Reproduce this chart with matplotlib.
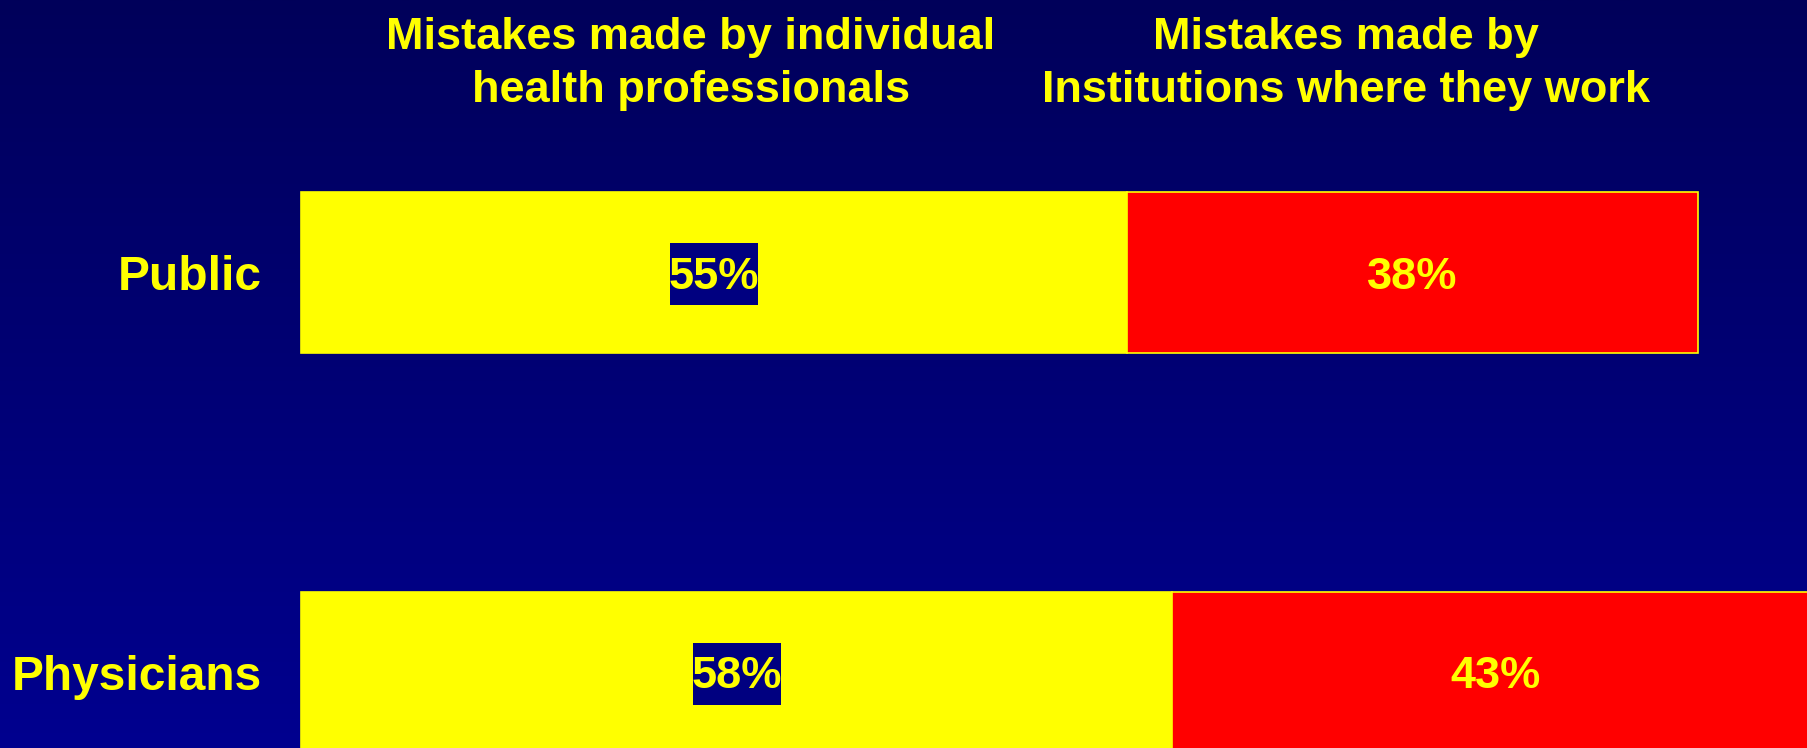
import numpy as np
import matplotlib
matplotlib.use("Agg")
import matplotlib.pyplot as plt
from matplotlib.colors import LinearSegmentedColormap
from matplotlib.patches import Rectangle

groups = ["Public", "Physicians"]
individual = [55, 58]
institution = [38, 43]
headers = ["Mistakes made by individual\nhealth professionals",
           "Mistakes made by\nInstitutions where they work"]

plt.rcParams['font.family'] = ['Liberation Sans', 'DejaVu Sans']

W, H = 1807, 748
fig = plt.figure(figsize=(W / 100, H / 100), dpi=100)

# navy gradient background
bg = fig.add_axes([0, 0, 1, 1])
grad = np.linspace(0, 1, 256).reshape(-1, 1)
cmap = LinearSegmentedColormap.from_list("bg", ["#00005a", "#00008f"])
bg.imshow(grad, aspect="auto", cmap=cmap, extent=[0, 1, 0, 1], origin="upper")
bg.axis("off")

ax = fig.add_axes([0, 0, 1, 1])
ax.patch.set_alpha(0)
px_per_pct = 15.02
px_per_row = 400
x0 = 301
ax.set_xlim(-x0 / px_per_pct, (W - x0) / px_per_pct)
ax.set_ylim((H - 272.5) / px_per_row, -272.5 / px_per_row)
ax.axis("off")

y = np.arange(len(groups))
bh = 0.4025
ax.barh(y, individual, height=bh, color="#ffff00", edgecolor="#ffff00", linewidth=1.2)
ax.barh(y, institution, left=individual, height=bh, color="#ff0000",
        edgecolor="#ffff00", linewidth=1.2)

# navy box behind the yellow-segment labels (88 x 62 px)
box_w = 88 / px_per_pct
box_h = 62 / px_per_row

for i, g in enumerate(groups):
    ax.text(-2.6, y[i], g, ha="right", va="center_baseline", color="#ffff00",
            fontsize=34.5, fontweight="bold")
    cx = individual[i] / 2
    ax.add_patch(Rectangle((cx - box_w / 2, y[i] - box_h / 2 + 0.004), box_w, box_h,
                           fc="#000080", ec="none", zorder=3))
    ax.text(cx, y[i], f"{individual[i]}%", ha="center", va="center_baseline",
            color="#ffff00", fontsize=32.5, fontweight="bold", zorder=4)
    ax.text(individual[i] + institution[i] / 2, y[i], f"{institution[i]}%",
            ha="center", va="center_baseline", color="#ffff00", fontsize=32.5,
            fontweight="bold", zorder=4)

for hx, txt in zip([691, 1346], headers):
    fig.text(hx / W, 1 - 64 / H, txt, ha="center", va="center", color="#ffff00",
             fontsize=32.5, fontweight="bold", linespacing=1.38)

fig.savefig("out.png", dpi=100)
